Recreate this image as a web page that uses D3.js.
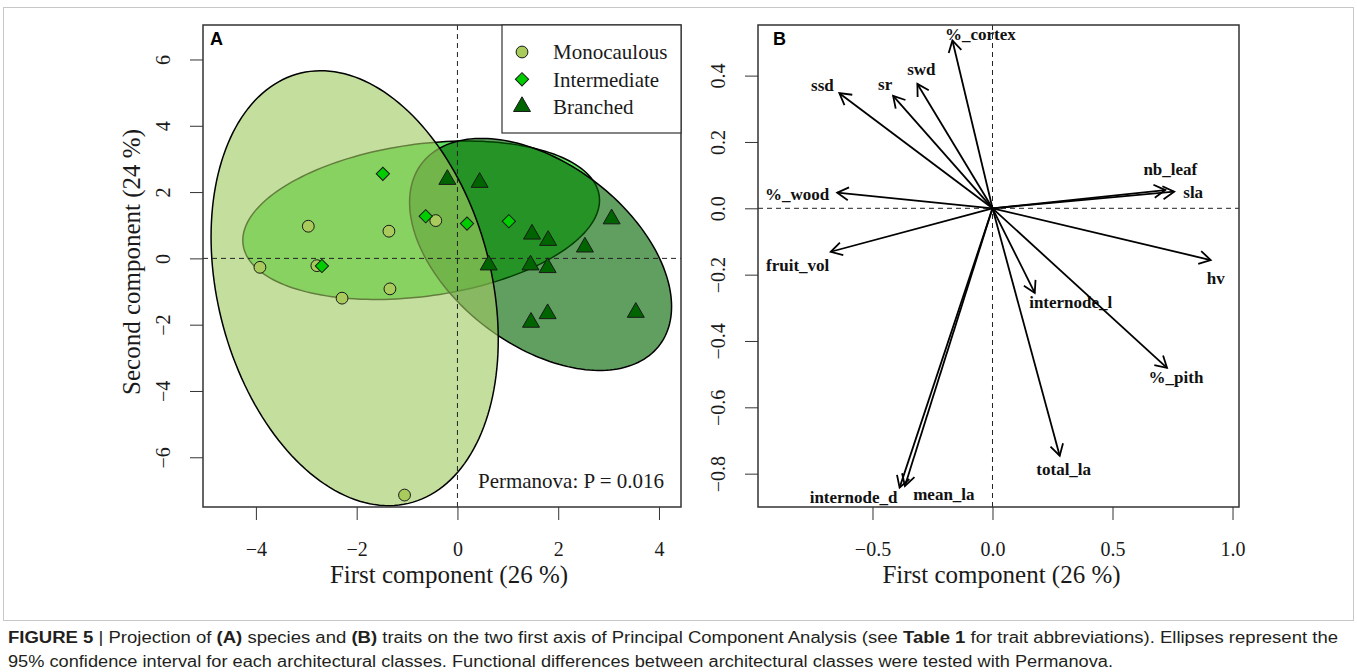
<!DOCTYPE html>
<html>
<head>
<meta charset="utf-8">
<script src="https://cdn.jsdelivr.net/npm/d3@7"></script>
<style>
  body { margin: 0; background: #fff; }
  svg { display: block; }
</style>
</head>
<body>
<div id="chart"></div>
<script>
const W = 1357, H = 672;

// ---- panel A : species scores
const classNames = ["Monocaulous", "Intermediate", "Branched"];
const monoPC1 = [-2.96, -1.36, -0.43, -3.92, -2.79, -1.34, -2.29, -1.05];
const monoPC2 = [0.97, 0.82, 1.14, -0.27, -0.22, -0.92, -1.20, -7.14];
const interPC1 = [-1.48, -0.63, 0.19, 1.02, -2.69];
const interPC2 = [2.55, 1.27, 1.05, 1.12, -0.23];
const branchPC1 = [-0.20, 0.44, 1.48, 1.80, 2.53, 3.06, 0.62, 1.45, 1.79, 1.46, 1.79, 3.54];
const branchPC2 = [2.38, 2.29, 0.73, 0.54, 0.34, 1.19, -0.20, -0.20, -0.28, -1.93, -1.67, -1.63];

// 95% ellipses (mono, inter, branched): centre, spread on each axis, correlation
const ellCx = [-2.04, -0.72, 1.65];
const ellCy = [-0.90, 1.15, 0.12];
const ellSx = [2.85, 3.54, 2.60];
const ellSy = [6.56, 2.39, 3.50];
const ellR = [-0.236, 0.253, -0.449];

const ticksA_x = [-4, -2, 0, 2, 4];
const ticksA_y = [-6, -4, -2, 0, 2, 4, 6];

// ---- panel B : trait loadings
const traits = ["%_cortex", "ssd", "sr", "swd", "%_wood", "fruit_vol", "nb_leaf", "sla",
  "hv", "internode_l", "%_pith", "total_la", "internode_d", "mean_la"];
const loadPC1 = [-0.167, -0.638, -0.414, -0.313, -0.647, -0.674, 0.720, 0.757,
  0.909, 0.176, 0.727, 0.280, -0.387, -0.365];
const loadPC2 = [0.506, 0.347, 0.339, 0.375, 0.047, -0.131, 0.055, 0.050,
  -0.156, -0.255, -0.481, -0.746, -0.842, -0.837];

const ticksB_x = [-0.5, 0, 0.5, 1.0];
const ticksB_y = [-0.8, -0.6, -0.4, -0.2, 0, 0.2, 0.4];

const svg = d3.select("#chart").append("svg")
  .attr("width", W)
  .attr("height", H);

const serif = "'Liberation Serif', 'Times New Roman', serif";
const minus = s => s.replace("-", "\u2212");

const fillCols = ["#a8cb5c", "#00cd00", "#006400"];
const ellCols = ["#a0ca62", "#00cd00", "#006400"];
const ellAlpha = 0.62;

// figure frame
svg.append("rect")
  .attr("x", 3.5).attr("y", 7.5)
  .attr("width", 1350).attr("height", 613)
  .attr("fill", "none")
  .attr("stroke", "#c8c8c8");

// ================= panel A =================
const boxA = { l: 203, r: 681, t: 25, b: 507 };
const xA = d3.scaleLinear().domain([-5.05, 4.437]).range([boxA.l, boxA.r]);
const yA = d3.scaleLinear().domain([-7.50, 7.04]).range([boxA.b, boxA.t]);

svg.append("defs").append("clipPath").attr("id", "clipA")
  .append("rect")
  .attr("x", boxA.l).attr("y", boxA.t)
  .attr("width", boxA.r - boxA.l).attr("height", boxA.b - boxA.t);

const gA = svg.append("g");
const plotA = gA.append("g").attr("clip-path", "url(#clipA)");

function ellipsePath(i) {
  const l11 = ellSx[i];
  const l21 = ellR[i] * ellSy[i];
  const l22 = ellSy[i] * Math.sqrt(1 - ellR[i] * ellR[i]);
  const pts = d3.range(0, 360, 2).map(a => {
    const t = a * Math.PI / 180;
    return [xA(ellCx[i] + l11 * Math.cos(t)),
            yA(ellCy[i] + l21 * Math.cos(t) + l22 * Math.sin(t))];
  });
  return d3.line()(pts) + "Z";
}

// drawing order as in the original: intermediate, branched, then monocaulous on top
[1, 2, 0].forEach(i => {
  plotA.append("path")
    .attr("d", ellipsePath(i))
    .attr("fill", ellCols[i])
    .attr("fill-opacity", ellAlpha)
    .attr("stroke", "#000")
    .attr("stroke-width", 1.5);
});

// reference lines
plotA.append("line")
  .attr("x1", xA(0)).attr("x2", xA(0))
  .attr("y1", boxA.t).attr("y2", boxA.b)
  .attr("stroke", "#222").attr("stroke-dasharray", "5,4");
plotA.append("line")
  .attr("x1", boxA.l).attr("x2", boxA.r)
  .attr("y1", yA(0)).attr("y2", yA(0))
  .attr("stroke", "#222").attr("stroke-dasharray", "5,4");

const symCircle = d3.symbol().type(d3.symbolCircle).size(110);
const symDiamond = d3.symbol().type(d3.symbolSquare).size(88);
const symTriangle = d3.symbol().type(d3.symbolTriangle).size(125);

function drawPoints(xs, ys, sym, col, rot) {
  plotA.selectAll(null)
    .data(d3.range(xs.length))
    .join("path")
    .attr("d", sym)
    .attr("transform", i => `translate(${xA(xs[i])},${yA(ys[i])}) rotate(${rot})`)
    .attr("fill", col)
    .attr("stroke", "#1a1a1a")
    .attr("stroke-width", 1);
}
drawPoints(monoPC1, monoPC2, symCircle, fillCols[0], 0);
drawPoints(interPC1, interPC2, symDiamond, fillCols[1], 45);
drawPoints(branchPC1, branchPC2, symTriangle, fillCols[2], 0);

// axes A
const axA_x = gA.append("g")
  .attr("transform", `translate(0,${boxA.b})`)
  .call(d3.axisBottom(xA).tickValues(ticksA_x).tickSize(13).tickSizeOuter(0)
    .tickFormat(d => minus(String(d))));
const axA_y = gA.append("g")
  .attr("transform", `translate(${boxA.l},0)`)
  .call(d3.axisLeft(yA).tickValues(ticksA_y).tickSize(13).tickSizeOuter(0)
    .tickFormat(d => minus(String(d))));

function styleAxis(ax, vertical) {
  ax.select(".domain").remove();
  ax.selectAll(".tick line").attr("stroke", "#333");
  const t = ax.selectAll(".tick text")
    .attr("font-family", serif)
    .attr("font-size", 20)
    .attr("fill", "#1a1a1a");
  if (vertical) {
    t.attr("x", 0).attr("y", 0).attr("dy", "0.35em")
      .attr("text-anchor", "middle")
      .attr("transform", "translate(-40,0) rotate(-90)");
  } else {
    t.attr("y", 42).attr("dy", "0.35em");
  }
}
styleAxis(axA_x, false);
styleAxis(axA_y, true);

gA.append("rect")
  .attr("x", boxA.l).attr("y", boxA.t)
  .attr("width", boxA.r - boxA.l).attr("height", boxA.b - boxA.t)
  .attr("fill", "none").attr("stroke", "#333").attr("stroke-width", 1.5);

gA.append("text")
  .attr("x", (boxA.l + boxA.r) / 2 + 7).attr("y", 583)
  .attr("text-anchor", "middle")
  .attr("font-family", serif).attr("font-size", 25).attr("fill", "#1a1a1a")
  .text("First component (26 %)");

gA.append("text")
  .attr("transform", `translate(140,${(boxA.t + boxA.b) / 2 - 4}) rotate(-90)`)
  .attr("text-anchor", "middle")
  .attr("font-family", serif).attr("font-size", 25).attr("fill", "#1a1a1a")
  .text("Second component (24 %)");

gA.append("text")
  .attr("x", 210).attr("y", 45)
  .attr("font-family", "'Liberation Sans', Arial, sans-serif")
  .attr("font-weight", "bold").attr("font-size", 18)
  .text("A");

gA.append("text")
  .attr("x", 664).attr("y", 488)
  .attr("text-anchor", "end")
  .attr("font-family", serif).attr("font-size", 21).attr("fill", "#1a1a1a")
  .text("Permanova: P = 0.016");

// legend
const leg = gA.append("g");
leg.append("rect")
  .attr("x", 502).attr("y", boxA.t)
  .attr("width", boxA.r - 502).attr("height", 108)
  .attr("fill", "#fff").attr("stroke", "#333").attr("stroke-width", 1.2);
const legSyms = [[symCircle, 0], [symDiamond, 45], [symTriangle, 0]];
classNames.forEach((name, i) => {
  const y = 52 + i * 27.3;
  leg.append("path")
    .attr("d", legSyms[i][0])
    .attr("transform", `translate(522,${y}) rotate(${legSyms[i][1]})`)
    .attr("fill", fillCols[i]).attr("stroke", "#1a1a1a");
  leg.append("text")
    .attr("x", 553).attr("y", y).attr("dy", "0.35em")
    .attr("font-family", serif).attr("font-size", 21).attr("fill", "#1a1a1a")
    .text(name);
});

// ================= panel B =================
const boxB = { l: 758, r: 1239, t: 25, b: 507 };
const xB = d3.scaleLinear().domain([-0.977, 1.027]).range([boxB.l, boxB.r]);
const yB = d3.scaleLinear().domain([-0.9005, 0.5526]).range([boxB.b, boxB.t]);
const gB = svg.append("g");

gB.append("line")
  .attr("x1", xB(0)).attr("x2", xB(0))
  .attr("y1", boxB.t).attr("y2", boxB.b)
  .attr("stroke", "#222").attr("stroke-dasharray", "5,4");
gB.append("line")
  .attr("x1", boxB.l).attr("x2", boxB.r)
  .attr("y1", yB(0)).attr("y2", yB(0))
  .attr("stroke", "#222").attr("stroke-dasharray", "5,4");

// label placement around each arrow tip (pixels)
const labelOffset = {
  "%_cortex": [28, -6], "ssd": [-17, -8], "sr": [-8, -12], "swd": [4, -15],
  "%_wood": [-40, 1], "fruit_vol": [-33, 13], "nb_leaf": [5, -21], "sla": [19, 0],
  "hv": [5, 18], "internode_l": [36, 9], "%_pith": [9, 9], "total_la": [4, 13],
  "internode_d": [-46, 9], "mean_la": [39, 8]
};

const headLen = 13, headAng = Math.PI / 6;
traits.forEach((name, i) => {
  const x0 = xB(0), y0 = yB(0);
  const x1 = xB(loadPC1[i]), y1 = yB(loadPC2[i]);
  const ang = Math.atan2(y1 - y0, x1 - x0);
  const g = gB.append("g")
    .attr("stroke", "#000").attr("stroke-width", 1.8).attr("fill", "none");
  g.append("line").attr("x1", x0).attr("y1", y0).attr("x2", x1).attr("y2", y1);
  g.append("path")
    .attr("d", d3.line()([
      [x1 - headLen * Math.cos(ang - headAng), y1 - headLen * Math.sin(ang - headAng)],
      [x1, y1],
      [x1 - headLen * Math.cos(ang + headAng), y1 - headLen * Math.sin(ang + headAng)]
    ]));
  const off = labelOffset[name];
  gB.append("text")
    .attr("x", x1 + off[0]).attr("y", y1 + off[1]).attr("dy", "0.35em")
    .attr("text-anchor", "middle")
    .attr("font-family", serif).attr("font-weight", "bold").attr("font-size", 17)
    .attr("fill", "#111")
    .text(name);
});

const fmtB = d => minus(d3.format(".1f")(d));
const axB_x = gB.append("g")
  .attr("transform", `translate(0,${boxB.b})`)
  .call(d3.axisBottom(xB).tickValues(ticksB_x).tickSize(13).tickSizeOuter(0).tickFormat(fmtB));
const axB_y = gB.append("g")
  .attr("transform", `translate(${boxB.l},0)`)
  .call(d3.axisLeft(yB).tickValues(ticksB_y).tickSize(13).tickSizeOuter(0).tickFormat(fmtB));
styleAxis(axB_x, false);
styleAxis(axB_y, true);

gB.append("rect")
  .attr("x", boxB.l).attr("y", boxB.t)
  .attr("width", boxB.r - boxB.l).attr("height", boxB.b - boxB.t)
  .attr("fill", "none").attr("stroke", "#333").attr("stroke-width", 1.5);

gB.append("text")
  .attr("x", (boxB.l + boxB.r) / 2 + 3).attr("y", 583)
  .attr("text-anchor", "middle")
  .attr("font-family", serif).attr("font-size", 25).attr("fill", "#1a1a1a")
  .text("First component (26 %)");

gB.append("text")
  .attr("x", 773).attr("y", 45)
  .attr("font-family", "'Liberation Sans', Arial, sans-serif")
  .attr("font-weight", "bold").attr("font-size", 18)
  .text("B");

// ================= caption =================
const capFont = "'Liberation Sans Narrow', 'Liberation Sans', Arial, sans-serif";
const cap1 = [
  ["FIGURE 5", true], [" | Projection of ", false], ["(A)", true], [" species and ", false],
  ["(B)", true], [" traits on the two first axis of Principal Component Analysis (see ", false],
  ["Table 1", true], [" for trait abbreviations). Ellipses represent the", false]
];
const cap2 = [["95% confidence interval for each architectural classes. Functional differences between architectural classes were tested with Permanova.", false]];

function captionLine(parts, y, len) {
  const t = svg.append("text")
    .attr("x", 8).attr("y", y)
    .attr("font-family", capFont).attr("font-size", 16).attr("fill", "#231f20")
    .attr("textLength", len).attr("lengthAdjust", "spacingAndGlyphs");
  parts.forEach(p => {
    t.append("tspan").attr("font-weight", p[1] ? "bold" : "normal").text(p[0]);
  });
}
captionLine(cap1, 643, 1330);
captionLine(cap2, 667, 1105);
</script>
</body>
</html>
